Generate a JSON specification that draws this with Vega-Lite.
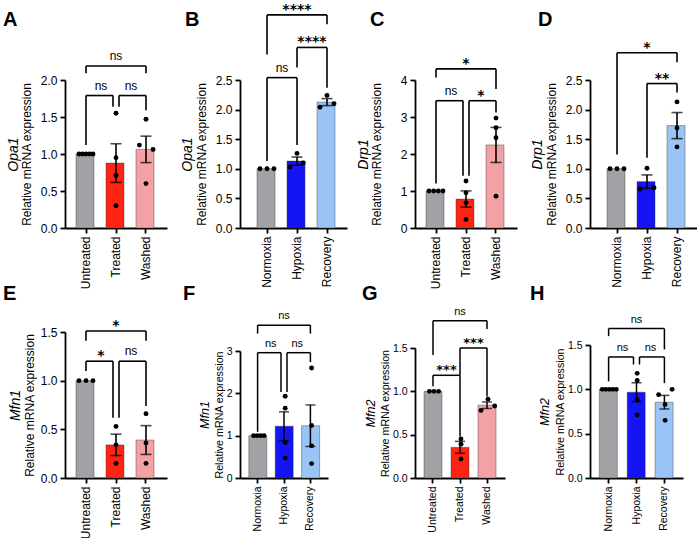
{
  "$schema": "https://vega.github.io/schema/vega-lite/v6.json",
  "padding": {"left": 3, "top": 2, "right": 0, "bottom": 0},
  "columns": 4,
  "bounds": "flush",
  "spacing": {"row": 104, "column": 73},
  "datasets": {
    "pts": [
      {"p": "A", "g": "Untreated", "v": 1, "s": -2}, {"p": "A", "g": "Untreated", "v": 1, "s": -1}, {"p": "A", "g": "Untreated", "v": 1, "s": 0}, {"p": "A", "g": "Untreated", "v": 1, "s": 1}, {"p": "A", "g": "Untreated", "v": 1, "s": 2},
      {"p": "A", "g": "Treated", "v": 1.55, "s": 0}, {"p": "A", "g": "Treated", "v": 0.95, "s": 0}, {"p": "A", "g": "Treated", "v": 0.71, "s": 0}, {"p": "A", "g": "Treated", "v": 0.30, "s": 0},
      {"p": "A", "g": "Washed", "v": 1.47, "s": 0}, {"p": "A", "g": "Washed", "v": 1.12, "s": -1.9}, {"p": "A", "g": "Washed", "v": 1.06, "s": 2}, {"p": "A", "g": "Washed", "v": 0.60, "s": 0},

      {"p": "B", "g": "Normoxia", "v": 1, "s": -2}, {"p": "B", "g": "Normoxia", "v": 1, "s": 0}, {"p": "B", "g": "Normoxia", "v": 1, "s": 2},
      {"p": "B", "g": "Hypoxia", "v": 1.26, "s": 0}, {"p": "B", "g": "Hypoxia", "v": 1.10, "s": 1.8}, {"p": "B", "g": "Hypoxia", "v": 1.03, "s": -2},
      {"p": "B", "g": "Recovery", "v": 2.24, "s": 0}, {"p": "B", "g": "Recovery", "v": 2.04, "s": -2}, {"p": "B", "g": "Recovery", "v": 2.10, "s": 2},

      {"p": "C", "g": "Untreated", "v": 1, "s": -2}, {"p": "C", "g": "Untreated", "v": 1, "s": -0.67}, {"p": "C", "g": "Untreated", "v": 1, "s": 0.67}, {"p": "C", "g": "Untreated", "v": 1, "s": 2},
      {"p": "C", "g": "Treated", "v": 1.27, "s": 0}, {"p": "C", "g": "Treated", "v": 0.95, "s": 0}, {"p": "C", "g": "Treated", "v": 0.68, "s": 0}, {"p": "C", "g": "Treated", "v": 0.23, "s": 0},
      {"p": "C", "g": "Washed", "v": 2.97, "s": 0}, {"p": "C", "g": "Washed", "v": 2.71, "s": 0}, {"p": "C", "g": "Washed", "v": 2.44, "s": 0}, {"p": "C", "g": "Washed", "v": 0.86, "s": 0},

      {"p": "D", "g": "Normoxia", "v": 1, "s": -2}, {"p": "D", "g": "Normoxia", "v": 1, "s": 0}, {"p": "D", "g": "Normoxia", "v": 1, "s": 2},
      {"p": "D", "g": "Hypoxia", "v": 1.01, "s": 0}, {"p": "D", "g": "Hypoxia", "v": 0.66, "s": -2}, {"p": "D", "g": "Hypoxia", "v": 0.68, "s": 2},
      {"p": "D", "g": "Recovery", "v": 2.13, "s": 0}, {"p": "D", "g": "Recovery", "v": 1.69, "s": 0}, {"p": "D", "g": "Recovery", "v": 1.37, "s": 0},

      {"p": "E", "g": "Untreated", "v": 1, "s": -2}, {"p": "E", "g": "Untreated", "v": 1, "s": 0}, {"p": "E", "g": "Untreated", "v": 1, "s": 2},
      {"p": "E", "g": "Treated", "v": 0.53, "s": 0}, {"p": "E", "g": "Treated", "v": 0.34, "s": 0}, {"p": "E", "g": "Treated", "v": 0.15, "s": 0},
      {"p": "E", "g": "Washed", "v": 0.66, "s": 0}, {"p": "E", "g": "Washed", "v": 0.36, "s": 0}, {"p": "E", "g": "Washed", "v": 0.15, "s": 0},

      {"p": "F", "g": "Normoxia", "v": 1, "s": -1.5}, {"p": "F", "g": "Normoxia", "v": 1, "s": -0.5}, {"p": "F", "g": "Normoxia", "v": 1, "s": 0.5}, {"p": "F", "g": "Normoxia", "v": 1, "s": 1.5},
      {"p": "F", "g": "Hypoxia", "v": 1.93, "s": 0}, {"p": "F", "g": "Hypoxia", "v": 1.65, "s": 0}, {"p": "F", "g": "Hypoxia", "v": 0.84, "s": 0}, {"p": "F", "g": "Hypoxia", "v": 0.47, "s": 0},
      {"p": "F", "g": "Recovery", "v": 2.60, "s": 0}, {"p": "F", "g": "Recovery", "v": 1.24, "s": 0}, {"p": "F", "g": "Recovery", "v": 0.76, "s": 0}, {"p": "F", "g": "Recovery", "v": 0.34, "s": 0},

      {"p": "G", "g": "Untreated", "v": 1, "s": -1.3}, {"p": "G", "g": "Untreated", "v": 1, "s": 0}, {"p": "G", "g": "Untreated", "v": 1, "s": 1.3},
      {"p": "G", "g": "Treated", "v": 0.45, "s": 0}, {"p": "G", "g": "Treated", "v": 0.39, "s": 0}, {"p": "G", "g": "Treated", "v": 0.22, "s": 0},
      {"p": "G", "g": "Washed", "v": 0.91, "s": 0}, {"p": "G", "g": "Washed", "v": 0.78, "s": -2}, {"p": "G", "g": "Washed", "v": 0.83, "s": 1.9},

      {"p": "H", "g": "Normoxia", "v": 1, "s": -2}, {"p": "H", "g": "Normoxia", "v": 1, "s": -1}, {"p": "H", "g": "Normoxia", "v": 1, "s": 0}, {"p": "H", "g": "Normoxia", "v": 1, "s": 1}, {"p": "H", "g": "Normoxia", "v": 1, "s": 2},
      {"p": "H", "g": "Hypoxia", "v": 1.18, "s": 0}, {"p": "H", "g": "Hypoxia", "v": 1.10, "s": 0}, {"p": "H", "g": "Hypoxia", "v": 0.88, "s": 0}, {"p": "H", "g": "Hypoxia", "v": 0.71, "s": 0},
      {"p": "H", "g": "Recovery", "v": 0.94, "s": -1.85}, {"p": "H", "g": "Recovery", "v": 1.00, "s": 2}, {"p": "H", "g": "Recovery", "v": 0.83, "s": 0}, {"p": "H", "g": "Recovery", "v": 0.65, "s": 0}
    ],
    "br": [
      {"p": "A", "a": "Untreated", "b": "Treated", "y": 1.79, "ya": 1.12, "yb": 1.64, "t": "ns", "k": "l", "sp": 1},
      {"p": "A", "a": "Treated", "b": "Washed", "y": 1.79, "ya": 1.64, "yb": 1.59, "t": "ns", "k": "r", "sp": 1},
      {"p": "A", "a": "Untreated", "b": "Washed", "y": 2.19, "ya": 2.09, "yb": 2.09, "t": "ns", "k": "n", "sp": 2},
      {"p": "B", "a": "Normoxia", "b": "Hypoxia", "y": 2.54, "ya": 1.13, "yb": 1.40, "t": "ns", "k": "n", "sp": 1},
      {"p": "B", "a": "Hypoxia", "b": "Recovery", "y": 3.05, "ya": 2.71, "yb": 2.37, "t": "****", "k": "n", "sp": 1},
      {"p": "B", "a": "Normoxia", "b": "Recovery", "y": 3.60, "ya": 2.93, "yb": 3.44, "t": "****", "k": "n", "sp": 2},
      {"p": "C", "a": "Untreated", "b": "Treated", "y": 3.44, "ya": 1.20, "yb": 1.41, "t": "ns", "k": "l", "sp": 1},
      {"p": "C", "a": "Treated", "b": "Washed", "y": 3.44, "ya": 1.41, "yb": 3.12, "t": "*", "k": "r", "sp": 1},
      {"p": "C", "a": "Untreated", "b": "Washed", "y": 4.30, "ya": 4.07, "yb": 3.76, "t": "*", "k": "n", "sp": 2},
      {"p": "D", "a": "Hypoxia", "b": "Recovery", "y": 2.44, "ya": 1.185, "yb": 2.29, "t": "**", "k": "n", "sp": 1},
      {"p": "D", "a": "Normoxia", "b": "Recovery", "y": 2.96, "ya": 1.24, "yb": 2.80, "t": "*", "k": "n", "sp": 2},
      {"p": "E", "a": "Untreated", "b": "Treated", "y": 1.20, "ya": 1.10, "yb": 0.62, "t": "*", "k": "l", "sp": 1},
      {"p": "E", "a": "Treated", "b": "Washed", "y": 1.20, "ya": 0.62, "yb": 0.74, "t": "ns", "k": "r", "sp": 1},
      {"p": "E", "a": "Untreated", "b": "Washed", "y": 1.51, "ya": 1.41, "yb": 1.41, "t": "*", "k": "n", "sp": 2},
      {"p": "F", "a": "Normoxia", "b": "Hypoxia", "y": 2.96, "ya": 1.09, "yb": 2.03, "t": "ns", "k": "l", "sp": 1},
      {"p": "F", "a": "Hypoxia", "b": "Recovery", "y": 2.96, "ya": 2.03, "yb": 2.74, "t": "ns", "k": "r", "sp": 1},
      {"p": "F", "a": "Normoxia", "b": "Recovery", "y": 3.61, "ya": 3.41, "yb": 3.41, "t": "ns", "k": "n", "sp": 2},
      {"p": "G", "a": "Untreated", "b": "Treated", "y": 1.185, "ya": 1.06, "yb": 0.48, "t": "***", "k": "n", "sp": 1},
      {"p": "G", "a": "Treated", "b": "Washed", "y": 1.50, "ya": 1.185, "yb": 0.94, "t": "***", "k": "n", "sp": 1},
      {"p": "G", "a": "Untreated", "b": "Washed", "y": 1.815, "ya": 1.42, "yb": 1.72, "t": "ns", "k": "n", "sp": 2},
      {"p": "H", "a": "Normoxia", "b": "Hypoxia", "y": 1.365, "ya": 1.09, "yb": 1.28, "t": "ns", "k": "l", "sp": 1},
      {"p": "H", "a": "Hypoxia", "b": "Recovery", "y": 1.365, "ya": 1.28, "yb": 1.07, "t": "ns", "k": "r", "sp": 1},
      {"p": "H", "a": "Normoxia", "b": "Recovery", "y": 1.685, "ya": 1.60, "yb": 1.45, "t": "ns", "k": "n", "sp": 2}
    ]
  },
  "concat": [
    {
      "title": {"text": "A", "dx": -62, "offset": 20},
      "width": 102, "height": 148,
      "resolve": {"axis": {"x": "independent", "y": "independent"}},
      "layer": [
        {"data": {"name": "pts"}, "transform": [{"filter": "datum.p == 'A'"}],
         "mark": {"type": "bar", "stroke": "#333333", "strokeOpacity": 0.5, "strokeWidth": 0.8},
         "encoding": {
           "x": {"field": "g", "type": "nominal", "scale": {"domain": ["Untreated", "Treated", "Washed"], "paddingInner": 0.3333, "paddingOuter": 0.3667}, "axis": {"title": null, "orient": "bottom", "labelAngle": -90, "labelFontSize": 12}},
           "y": {"aggregate": "mean", "field": "v", "type": "quantitative", "scale": {"domain": [0, 2], "nice": false}, "axis": {"title": "Relative mRNA expression", "values": [0, 0.5, 1, 1.5, 2], "format": ".1f", "titlePadding": 7}},
           "color": {"field": "g", "type": "nominal", "scale": {"domain": ["Untreated", "Treated", "Washed", "Normoxia", "Hypoxia", "Recovery"], "range": ["#A2A2A6", "#FF2313", "#F4A1A6", "#A2A2A6", "#1414F4", "#9AC4F5"]}, "legend": null}}},
        {"data": {"name": "pts"}, "transform": [{"filter": "datum.p == 'A' && datum.g != 'Untreated'"}],
         "mark": {"type": "errorbar", "extent": "stderr", "ticks": true, "size": 11, "thickness": 1.6, "color": "black"},
         "encoding": {"x": {"field": "g", "type": "nominal", "axis": null}, "y": {"field": "v", "type": "quantitative", "axis": null}}},
        {"data": {"name": "pts"}, "transform": [{"filter": "datum.p == 'A'"}],
         "mark": {"type": "circle", "size": 24, "color": "black", "opacity": 1},
         "encoding": {"x": {"field": "g", "type": "nominal", "axis": null}, "xOffset": {"field": "s", "type": "quantitative", "scale": {"domain": [-2, 2], "range": [3, 17]}},
           "y": {"field": "v", "type": "quantitative", "axis": {"orient": "left", "title": "Opa1", "titleFontStyle": "italic", "titleFontSize": 14, "labels": false, "ticks": false, "domain": false, "titlePadding": 45}}}},
        {"data": {"name": "br"}, "transform": [{"filter": "datum.p == 'A' && datum.k == 'n'"}], "mark": {"type": "rule", "color": "black", "strokeWidth": 1.6},
         "encoding": {"x": {"field": "a", "type": "nominal", "axis": null}, "x2": {"field": "b"}, "y": {"field": "y", "type": "quantitative", "axis": null}}},
        {"data": {"name": "br"}, "transform": [{"filter": "datum.p == 'A' && datum.k == 'l'"}], "mark": {"type": "rule", "color": "black", "strokeWidth": 1.6, "x2Offset": -3},
         "encoding": {"x": {"field": "a", "type": "nominal", "axis": null}, "x2": {"field": "b"}, "y": {"field": "y", "type": "quantitative", "axis": null}}},
        {"data": {"name": "br"}, "transform": [{"filter": "datum.p == 'A' && datum.k == 'r'"}], "mark": {"type": "rule", "color": "black", "strokeWidth": 1.6, "xOffset": 3},
         "encoding": {"x": {"field": "a", "type": "nominal", "axis": null}, "x2": {"field": "b"}, "y": {"field": "y", "type": "quantitative", "axis": null}}},
        {"data": {"name": "br"}, "transform": [{"filter": "datum.p == 'A' && datum.k != 'r'"}], "mark": {"type": "rule", "color": "black", "strokeWidth": 1.6},
         "encoding": {"x": {"field": "a", "type": "nominal", "axis": null}, "y": {"field": "y", "type": "quantitative", "axis": null}, "y2": {"field": "ya"}}},
        {"data": {"name": "br"}, "transform": [{"filter": "datum.p == 'A' && datum.k == 'r'"}], "mark": {"type": "rule", "color": "black", "strokeWidth": 1.6, "xOffset": 3},
         "encoding": {"x": {"field": "a", "type": "nominal", "axis": null}, "y": {"field": "y", "type": "quantitative", "axis": null}, "y2": {"field": "ya"}}},
        {"data": {"name": "br"}, "transform": [{"filter": "datum.p == 'A' && datum.k != 'l'"}], "mark": {"type": "rule", "color": "black", "strokeWidth": 1.6},
         "encoding": {"x": {"field": "b", "type": "nominal", "axis": null}, "y": {"field": "y", "type": "quantitative", "axis": null}, "y2": {"field": "yb"}}},
        {"data": {"name": "br"}, "transform": [{"filter": "datum.p == 'A' && datum.k == 'l'"}], "mark": {"type": "rule", "color": "black", "strokeWidth": 1.6, "xOffset": -3},
         "encoding": {"x": {"field": "b", "type": "nominal", "axis": null}, "y": {"field": "y", "type": "quantitative", "axis": null}, "y2": {"field": "yb"}}},
        {"data": {"name": "br"}, "transform": [{"filter": "datum.p == 'A' && datum.sp == 1"}], "mark": {"type": "text", "color": "black", "fontSize": 12, "dy": -6, "baseline": "alphabetic"},
         "encoding": {"x": {"field": "a", "type": "nominal", "bandPosition": 1.25, "axis": null}, "y": {"field": "y", "type": "quantitative", "axis": null}, "text": {"field": "t"}}},
        {"data": {"name": "br"}, "transform": [{"filter": "datum.p == 'A' && datum.sp == 2"}], "mark": {"type": "text", "color": "black", "fontSize": 12, "dy": -6, "baseline": "alphabetic"},
         "encoding": {"x": {"field": "a", "type": "nominal", "bandPosition": 2, "axis": null}, "y": {"field": "y", "type": "quantitative", "axis": null}, "text": {"field": "t"}}}
      ]
    },
    {
      "title": {"text": "B", "dx": -55, "offset": -27},
      "width": 102, "height": 148,
      "resolve": {"axis": {"x": "independent", "y": "independent"}},
      "layer": [
        {"data": {"name": "pts"}, "transform": [{"filter": "datum.p == 'B'"}],
         "mark": {"type": "bar", "stroke": "#333333", "strokeOpacity": 0.5, "strokeWidth": 0.8},
         "encoding": {
           "x": {"field": "g", "type": "nominal", "scale": {"domain": ["Normoxia", "Hypoxia", "Recovery"], "range": [0, 107], "paddingInner": 0.3333, "paddingOuter": 0.45, "align": 0.63}, "axis": {"title": null, "orient": "bottom", "labelAngle": -90, "labelFontSize": 12}},
           "y": {"aggregate": "mean", "field": "v", "type": "quantitative", "scale": {"domain": [0, 2.5], "nice": false}, "axis": {"title": "Relative mRNA expression", "values": [0, 0.5, 1, 1.5, 2, 2.5], "format": ".1f", "titlePadding": 7}},
           "color": {"field": "g", "type": "nominal", "scale": {"domain": ["Untreated", "Treated", "Washed", "Normoxia", "Hypoxia", "Recovery"], "range": ["#A2A2A6", "#FF2313", "#F4A1A6", "#A2A2A6", "#1414F4", "#9AC4F5"]}, "legend": null}}},
        {"data": {"name": "pts"}, "transform": [{"filter": "datum.p == 'B' && datum.g != 'Normoxia'"}],
         "mark": {"type": "errorbar", "extent": "stderr", "ticks": true, "size": 11, "thickness": 1.6, "color": "black"},
         "encoding": {"x": {"field": "g", "type": "nominal", "axis": null}, "y": {"field": "v", "type": "quantitative", "axis": null}}},
        {"data": {"name": "pts"}, "transform": [{"filter": "datum.p == 'B'"}],
         "mark": {"type": "circle", "size": 24, "color": "black", "opacity": 1},
         "encoding": {"x": {"field": "g", "type": "nominal", "axis": null}, "xOffset": {"field": "s", "type": "quantitative", "scale": {"domain": [-2, 2], "range": [3, 17]}},
           "y": {"field": "v", "type": "quantitative", "axis": {"orient": "left", "title": "Opa1", "titleFontStyle": "italic", "titleFontSize": 14, "labels": false, "ticks": false, "domain": false, "titlePadding": 46}}}},
        {"data": {"name": "br"}, "transform": [{"filter": "datum.p == 'B'"}], "mark": {"type": "rule", "color": "black", "strokeWidth": 1.6},
         "encoding": {"x": {"field": "a", "type": "nominal", "axis": null}, "x2": {"field": "b"}, "y": {"field": "y", "type": "quantitative", "axis": null}}},
        {"data": {"name": "br"}, "transform": [{"filter": "datum.p == 'B'"}], "mark": {"type": "rule", "color": "black", "strokeWidth": 1.6},
         "encoding": {"x": {"field": "a", "type": "nominal", "axis": null}, "y": {"field": "y", "type": "quantitative", "axis": null}, "y2": {"field": "ya"}}},
        {"data": {"name": "br"}, "transform": [{"filter": "datum.p == 'B'"}], "mark": {"type": "rule", "color": "black", "strokeWidth": 1.6},
         "encoding": {"x": {"field": "b", "type": "nominal", "axis": null}, "y": {"field": "y", "type": "quantitative", "axis": null}, "y2": {"field": "yb"}}},
        {"data": {"name": "br"}, "transform": [{"filter": "datum.p == 'B' && datum.sp == 1 && datum.t == 'ns'"}], "mark": {"type": "text", "color": "black", "fontSize": 12, "dy": -6, "baseline": "alphabetic"},
         "encoding": {"x": {"field": "a", "type": "nominal", "bandPosition": 1.25, "axis": null}, "y": {"field": "y", "type": "quantitative", "axis": null}, "text": {"field": "t"}}},
        {"data": {"name": "br"}, "transform": [{"filter": "datum.p == 'B' && datum.sp == 1 && datum.t != 'ns'"}], "mark": {"type": "text", "color": "black", "font": "DejaVu Sans", "fontWeight": "bold", "fontSize": 14, "dy": -1, "baseline": "alphabetic"},
         "encoding": {"x": {"field": "a", "type": "nominal", "bandPosition": 1.25, "axis": null}, "y": {"field": "y", "type": "quantitative", "axis": null}, "text": {"field": "t"}}},
        {"data": {"name": "br"}, "transform": [{"filter": "datum.p == 'B' && datum.sp == 2"}], "mark": {"type": "text", "color": "black", "font": "DejaVu Sans", "fontWeight": "bold", "fontSize": 14, "dy": -1, "baseline": "alphabetic"},
         "encoding": {"x": {"field": "a", "type": "nominal", "bandPosition": 2, "axis": null}, "y": {"field": "y", "type": "quantitative", "axis": null}, "text": {"field": "t"}}}
      ]
    },
    {
      "title": {"text": "C", "dx": -45, "offset": 27},
      "width": 102, "height": 148,
      "resolve": {"axis": {"x": "independent", "y": "independent"}},
      "layer": [
        {"data": {"name": "pts"}, "transform": [{"filter": "datum.p == 'C'"}],
         "mark": {"type": "bar", "stroke": "#333333", "strokeOpacity": 0.5, "strokeWidth": 0.8},
         "encoding": {
           "x": {"field": "g", "type": "nominal", "scale": {"domain": ["Untreated", "Treated", "Washed"], "paddingInner": 0.3333, "paddingOuter": 0.3667}, "axis": {"title": null, "orient": "bottom", "labelAngle": -90, "labelFontSize": 12}},
           "y": {"aggregate": "mean", "field": "v", "type": "quantitative", "scale": {"domain": [0, 4], "nice": false}, "axis": {"title": "Relative mRNA expression", "values": [0, 1, 2, 3, 4], "format": "d", "titlePadding": 17}},
           "color": {"field": "g", "type": "nominal", "scale": {"domain": ["Untreated", "Treated", "Washed", "Normoxia", "Hypoxia", "Recovery"], "range": ["#A2A2A6", "#FF2313", "#F4A1A6", "#A2A2A6", "#1414F4", "#9AC4F5"]}, "legend": null}}},
        {"data": {"name": "pts"}, "transform": [{"filter": "datum.p == 'C' && datum.g != 'Untreated'"}],
         "mark": {"type": "errorbar", "extent": "stderr", "ticks": true, "size": 11, "thickness": 1.6, "color": "black"},
         "encoding": {"x": {"field": "g", "type": "nominal", "axis": null}, "y": {"field": "v", "type": "quantitative", "axis": null}}},
        {"data": {"name": "pts"}, "transform": [{"filter": "datum.p == 'C'"}],
         "mark": {"type": "circle", "size": 24, "color": "black", "opacity": 1},
         "encoding": {"x": {"field": "g", "type": "nominal", "axis": null}, "xOffset": {"field": "s", "type": "quantitative", "scale": {"domain": [-2, 2], "range": [3, 17]}},
           "y": {"field": "v", "type": "quantitative", "axis": {"orient": "left", "title": "Drp1", "titleFontStyle": "italic", "titleFontSize": 14, "labels": false, "ticks": false, "domain": false, "titlePadding": 45}}}},
        {"data": {"name": "br"}, "transform": [{"filter": "datum.p == 'C' && datum.k == 'n'"}], "mark": {"type": "rule", "color": "black", "strokeWidth": 1.6},
         "encoding": {"x": {"field": "a", "type": "nominal", "axis": null}, "x2": {"field": "b"}, "y": {"field": "y", "type": "quantitative", "axis": null}}},
        {"data": {"name": "br"}, "transform": [{"filter": "datum.p == 'C' && datum.k == 'l'"}], "mark": {"type": "rule", "color": "black", "strokeWidth": 1.6, "x2Offset": -3},
         "encoding": {"x": {"field": "a", "type": "nominal", "axis": null}, "x2": {"field": "b"}, "y": {"field": "y", "type": "quantitative", "axis": null}}},
        {"data": {"name": "br"}, "transform": [{"filter": "datum.p == 'C' && datum.k == 'r'"}], "mark": {"type": "rule", "color": "black", "strokeWidth": 1.6, "xOffset": 3},
         "encoding": {"x": {"field": "a", "type": "nominal", "axis": null}, "x2": {"field": "b"}, "y": {"field": "y", "type": "quantitative", "axis": null}}},
        {"data": {"name": "br"}, "transform": [{"filter": "datum.p == 'C' && datum.k != 'r'"}], "mark": {"type": "rule", "color": "black", "strokeWidth": 1.6},
         "encoding": {"x": {"field": "a", "type": "nominal", "axis": null}, "y": {"field": "y", "type": "quantitative", "axis": null}, "y2": {"field": "ya"}}},
        {"data": {"name": "br"}, "transform": [{"filter": "datum.p == 'C' && datum.k == 'r'"}], "mark": {"type": "rule", "color": "black", "strokeWidth": 1.6, "xOffset": 3},
         "encoding": {"x": {"field": "a", "type": "nominal", "axis": null}, "y": {"field": "y", "type": "quantitative", "axis": null}, "y2": {"field": "ya"}}},
        {"data": {"name": "br"}, "transform": [{"filter": "datum.p == 'C' && datum.k != 'l'"}], "mark": {"type": "rule", "color": "black", "strokeWidth": 1.6},
         "encoding": {"x": {"field": "b", "type": "nominal", "axis": null}, "y": {"field": "y", "type": "quantitative", "axis": null}, "y2": {"field": "yb"}}},
        {"data": {"name": "br"}, "transform": [{"filter": "datum.p == 'C' && datum.k == 'l'"}], "mark": {"type": "rule", "color": "black", "strokeWidth": 1.6, "xOffset": -3},
         "encoding": {"x": {"field": "b", "type": "nominal", "axis": null}, "y": {"field": "y", "type": "quantitative", "axis": null}, "y2": {"field": "yb"}}},
        {"data": {"name": "br"}, "transform": [{"filter": "datum.p == 'C' && datum.sp == 1 && datum.t == 'ns'"}], "mark": {"type": "text", "color": "black", "fontSize": 12, "dy": -6, "baseline": "alphabetic"},
         "encoding": {"x": {"field": "a", "type": "nominal", "bandPosition": 1.25, "axis": null}, "y": {"field": "y", "type": "quantitative", "axis": null}, "text": {"field": "t"}}},
        {"data": {"name": "br"}, "transform": [{"filter": "datum.p == 'C' && datum.sp == 1 && datum.t != 'ns'"}], "mark": {"type": "text", "color": "black", "font": "DejaVu Sans", "fontWeight": "bold", "fontSize": 14, "dy": -1, "baseline": "alphabetic"},
         "encoding": {"x": {"field": "a", "type": "nominal", "bandPosition": 1.25, "axis": null}, "y": {"field": "y", "type": "quantitative", "axis": null}, "text": {"field": "t"}}},
        {"data": {"name": "br"}, "transform": [{"filter": "datum.p == 'C' && datum.sp == 2"}], "mark": {"type": "text", "color": "black", "font": "DejaVu Sans", "fontWeight": "bold", "fontSize": 14, "dy": -1, "baseline": "alphabetic"},
         "encoding": {"x": {"field": "a", "type": "nominal", "bandPosition": 2, "axis": null}, "y": {"field": "y", "type": "quantitative", "axis": null}, "text": {"field": "t"}}}
      ]
    },
    {
      "title": {"text": "D", "dx": -52, "offset": 11},
      "width": 102, "height": 148,
      "resolve": {"axis": {"x": "independent", "y": "independent"}},
      "layer": [
        {"data": {"name": "pts"}, "transform": [{"filter": "datum.p == 'D'"}],
         "mark": {"type": "bar", "stroke": "#333333", "strokeOpacity": 0.5, "strokeWidth": 0.8},
         "encoding": {
           "x": {"field": "g", "type": "nominal", "scale": {"domain": ["Normoxia", "Hypoxia", "Recovery"], "range": [0, 107], "paddingInner": 0.3333, "paddingOuter": 0.45, "align": 0.63}, "axis": {"title": null, "orient": "bottom", "labelAngle": -90, "labelFontSize": 12}},
           "y": {"aggregate": "mean", "field": "v", "type": "quantitative", "scale": {"domain": [0, 2.5], "nice": false}, "axis": {"title": "Relative mRNA expression", "values": [0, 0.5, 1, 1.5, 2, 2.5], "format": ".1f", "titlePadding": 7}},
           "color": {"field": "g", "type": "nominal", "scale": {"domain": ["Untreated", "Treated", "Washed", "Normoxia", "Hypoxia", "Recovery"], "range": ["#A2A2A6", "#FF2313", "#F4A1A6", "#A2A2A6", "#1414F4", "#9AC4F5"]}, "legend": null}}},
        {"data": {"name": "pts"}, "transform": [{"filter": "datum.p == 'D' && datum.g != 'Normoxia'"}],
         "mark": {"type": "errorbar", "extent": "stderr", "ticks": true, "size": 11, "thickness": 1.6, "color": "black"},
         "encoding": {"x": {"field": "g", "type": "nominal", "axis": null}, "y": {"field": "v", "type": "quantitative", "axis": null}}},
        {"data": {"name": "pts"}, "transform": [{"filter": "datum.p == 'D'"}],
         "mark": {"type": "circle", "size": 24, "color": "black", "opacity": 1},
         "encoding": {"x": {"field": "g", "type": "nominal", "axis": null}, "xOffset": {"field": "s", "type": "quantitative", "scale": {"domain": [-2, 2], "range": [3, 17]}},
           "y": {"field": "v", "type": "quantitative", "axis": {"orient": "left", "title": "Drp1", "titleFontStyle": "italic", "titleFontSize": 14, "labels": false, "ticks": false, "domain": false, "titlePadding": 46}}}},
        {"data": {"name": "br"}, "transform": [{"filter": "datum.p == 'D'"}], "mark": {"type": "rule", "color": "black", "strokeWidth": 1.6},
         "encoding": {"x": {"field": "a", "type": "nominal", "axis": null}, "x2": {"field": "b"}, "y": {"field": "y", "type": "quantitative", "axis": null}}},
        {"data": {"name": "br"}, "transform": [{"filter": "datum.p == 'D'"}], "mark": {"type": "rule", "color": "black", "strokeWidth": 1.6},
         "encoding": {"x": {"field": "a", "type": "nominal", "axis": null}, "y": {"field": "y", "type": "quantitative", "axis": null}, "y2": {"field": "ya"}}},
        {"data": {"name": "br"}, "transform": [{"filter": "datum.p == 'D'"}], "mark": {"type": "rule", "color": "black", "strokeWidth": 1.6},
         "encoding": {"x": {"field": "b", "type": "nominal", "axis": null}, "y": {"field": "y", "type": "quantitative", "axis": null}, "y2": {"field": "yb"}}},
        {"data": {"name": "br"}, "transform": [{"filter": "datum.p == 'D' && datum.sp == 1"}], "mark": {"type": "text", "color": "black", "font": "DejaVu Sans", "fontWeight": "bold", "fontSize": 14, "dy": -1, "baseline": "alphabetic"},
         "encoding": {"x": {"field": "a", "type": "nominal", "bandPosition": 1.25, "axis": null}, "y": {"field": "y", "type": "quantitative", "axis": null}, "text": {"field": "t"}}},
        {"data": {"name": "br"}, "transform": [{"filter": "datum.p == 'D' && datum.sp == 2"}], "mark": {"type": "text", "color": "black", "font": "DejaVu Sans", "fontWeight": "bold", "fontSize": 14, "dy": -1, "baseline": "alphabetic"},
         "encoding": {"x": {"field": "a", "type": "nominal", "bandPosition": 2, "axis": null}, "y": {"field": "y", "type": "quantitative", "axis": null}, "text": {"field": "t"}}}
      ]
    },
    {
      "title": {"text": "E", "dx": -62, "offset": 15},
      "width": 102, "height": 146,
      "resolve": {"axis": {"x": "independent", "y": "independent"}},
      "layer": [
        {"data": {"name": "pts"}, "transform": [{"filter": "datum.p == 'E'"}],
         "mark": {"type": "bar", "stroke": "#333333", "strokeOpacity": 0.5, "strokeWidth": 0.8},
         "encoding": {
           "x": {"field": "g", "type": "nominal", "scale": {"domain": ["Untreated", "Treated", "Washed"], "paddingInner": 0.3333, "paddingOuter": 0.3667}, "axis": {"title": null, "orient": "bottom", "labelAngle": -90, "labelFontSize": 12}},
           "y": {"aggregate": "mean", "field": "v", "type": "quantitative", "scale": {"domain": [0, 1.5], "nice": false}, "axis": {"title": "Relative mRNA expression", "values": [0, 0.5, 1, 1.5], "format": ".1f", "titlePadding": 4}},
           "color": {"field": "g", "type": "nominal", "scale": {"domain": ["Untreated", "Treated", "Washed", "Normoxia", "Hypoxia", "Recovery"], "range": ["#A2A2A6", "#FF2313", "#F4A1A6", "#A2A2A6", "#1414F4", "#9AC4F5"]}, "legend": null}}},
        {"data": {"name": "pts"}, "transform": [{"filter": "datum.p == 'E' && datum.g != 'Untreated'"}],
         "mark": {"type": "errorbar", "extent": "stderr", "ticks": true, "size": 11, "thickness": 1.6, "color": "black"},
         "encoding": {"x": {"field": "g", "type": "nominal", "axis": null}, "y": {"field": "v", "type": "quantitative", "axis": null}}},
        {"data": {"name": "pts"}, "transform": [{"filter": "datum.p == 'E'"}],
         "mark": {"type": "circle", "size": 24, "color": "black", "opacity": 1},
         "encoding": {"x": {"field": "g", "type": "nominal", "axis": null}, "xOffset": {"field": "s", "type": "quantitative", "scale": {"domain": [-2, 2], "range": [3, 17]}},
           "y": {"field": "v", "type": "quantitative", "axis": {"orient": "left", "title": "Mfn1", "titleFontStyle": "italic", "titleFontSize": 14, "labels": false, "ticks": false, "domain": false, "titlePadding": 43}}}},
        {"data": {"name": "br"}, "transform": [{"filter": "datum.p == 'E' && datum.k == 'n'"}], "mark": {"type": "rule", "color": "black", "strokeWidth": 1.6},
         "encoding": {"x": {"field": "a", "type": "nominal", "axis": null}, "x2": {"field": "b"}, "y": {"field": "y", "type": "quantitative", "axis": null}}},
        {"data": {"name": "br"}, "transform": [{"filter": "datum.p == 'E' && datum.k == 'l'"}], "mark": {"type": "rule", "color": "black", "strokeWidth": 1.6, "x2Offset": -3},
         "encoding": {"x": {"field": "a", "type": "nominal", "axis": null}, "x2": {"field": "b"}, "y": {"field": "y", "type": "quantitative", "axis": null}}},
        {"data": {"name": "br"}, "transform": [{"filter": "datum.p == 'E' && datum.k == 'r'"}], "mark": {"type": "rule", "color": "black", "strokeWidth": 1.6, "xOffset": 3},
         "encoding": {"x": {"field": "a", "type": "nominal", "axis": null}, "x2": {"field": "b"}, "y": {"field": "y", "type": "quantitative", "axis": null}}},
        {"data": {"name": "br"}, "transform": [{"filter": "datum.p == 'E' && datum.k != 'r'"}], "mark": {"type": "rule", "color": "black", "strokeWidth": 1.6},
         "encoding": {"x": {"field": "a", "type": "nominal", "axis": null}, "y": {"field": "y", "type": "quantitative", "axis": null}, "y2": {"field": "ya"}}},
        {"data": {"name": "br"}, "transform": [{"filter": "datum.p == 'E' && datum.k == 'r'"}], "mark": {"type": "rule", "color": "black", "strokeWidth": 1.6, "xOffset": 3},
         "encoding": {"x": {"field": "a", "type": "nominal", "axis": null}, "y": {"field": "y", "type": "quantitative", "axis": null}, "y2": {"field": "ya"}}},
        {"data": {"name": "br"}, "transform": [{"filter": "datum.p == 'E' && datum.k != 'l'"}], "mark": {"type": "rule", "color": "black", "strokeWidth": 1.6},
         "encoding": {"x": {"field": "b", "type": "nominal", "axis": null}, "y": {"field": "y", "type": "quantitative", "axis": null}, "y2": {"field": "yb"}}},
        {"data": {"name": "br"}, "transform": [{"filter": "datum.p == 'E' && datum.k == 'l'"}], "mark": {"type": "rule", "color": "black", "strokeWidth": 1.6, "xOffset": -3},
         "encoding": {"x": {"field": "b", "type": "nominal", "axis": null}, "y": {"field": "y", "type": "quantitative", "axis": null}, "y2": {"field": "yb"}}},
        {"data": {"name": "br"}, "transform": [{"filter": "datum.p == 'E' && datum.sp == 1 && datum.t == 'ns'"}], "mark": {"type": "text", "color": "black", "fontSize": 12, "dy": -6, "baseline": "alphabetic"},
         "encoding": {"x": {"field": "a", "type": "nominal", "bandPosition": 1.25, "axis": null}, "y": {"field": "y", "type": "quantitative", "axis": null}, "text": {"field": "t"}}},
        {"data": {"name": "br"}, "transform": [{"filter": "datum.p == 'E' && datum.sp == 1 && datum.t != 'ns'"}], "mark": {"type": "text", "color": "black", "font": "DejaVu Sans", "fontWeight": "bold", "fontSize": 14, "dy": -1, "baseline": "alphabetic"},
         "encoding": {"x": {"field": "a", "type": "nominal", "bandPosition": 1.25, "axis": null}, "y": {"field": "y", "type": "quantitative", "axis": null}, "text": {"field": "t"}}},
        {"data": {"name": "br"}, "transform": [{"filter": "datum.p == 'E' && datum.sp == 2"}], "mark": {"type": "text", "color": "black", "font": "DejaVu Sans", "fontWeight": "bold", "fontSize": 14, "dy": -1, "baseline": "alphabetic"},
         "encoding": {"x": {"field": "a", "type": "nominal", "bandPosition": 2, "axis": null}, "y": {"field": "y", "type": "quantitative", "axis": null}, "text": {"field": "t"}}}
      ]
    },
    {
      "title": {"text": "F", "dx": -57, "offset": 6},
      "width": 102, "height": 146,
      "resolve": {"axis": {"x": "independent", "y": "independent"}},
      "layer": [
        {"data": {"name": "pts"}, "transform": [{"filter": "datum.p == 'F'"}],
         "mark": {"type": "bar", "stroke": "#333333", "strokeOpacity": 0.5, "strokeWidth": 0.8},
         "encoding": {
           "x": {"field": "g", "type": "nominal", "scale": {"domain": ["Normoxia", "Hypoxia", "Recovery"], "range": [0, 88], "paddingInner": 0.3333, "paddingOuter": 0.3333}, "axis": {"title": null, "orient": "bottom", "labelAngle": -90, "labelFontSize": 10.5}},
           "y": {"aggregate": "mean", "field": "v", "type": "quantitative", "scale": {"domain": [0, 3], "range": [146, 19], "nice": false}, "axis": {"title": "Relative mRNA expression", "values": [0, 1, 2, 3], "format": "d", "labelFontSize": 10.5, "titleFontSize": 10.7, "titlePadding": 2}},
           "color": {"field": "g", "type": "nominal", "scale": {"domain": ["Untreated", "Treated", "Washed", "Normoxia", "Hypoxia", "Recovery"], "range": ["#A2A2A6", "#FF2313", "#F4A1A6", "#A2A2A6", "#1414F4", "#9AC4F5"]}, "legend": null}}},
        {"data": {"name": "pts"}, "transform": [{"filter": "datum.p == 'F' && datum.g != 'Normoxia'"}],
         "mark": {"type": "errorbar", "extent": "stderr", "ticks": true, "size": 10, "thickness": 1.5, "color": "black"},
         "encoding": {"x": {"field": "g", "type": "nominal", "axis": null}, "y": {"field": "v", "type": "quantitative", "axis": null}}},
        {"data": {"name": "pts"}, "transform": [{"filter": "datum.p == 'F'"}],
         "mark": {"type": "circle", "size": 24, "color": "black", "opacity": 1},
         "encoding": {"x": {"field": "g", "type": "nominal", "axis": null}, "xOffset": {"field": "s", "type": "quantitative", "scale": {"domain": [-2, 2], "range": [2.3, 15.3]}},
           "y": {"field": "v", "type": "quantitative", "axis": {"orient": "left", "title": "Mfn1", "titleFontStyle": "italic", "titleFontSize": 12.5, "labels": false, "ticks": false, "domain": false, "titlePadding": 29}}}},
        {"data": {"name": "br"}, "transform": [{"filter": "datum.p == 'F' && datum.k == 'n'"}], "mark": {"type": "rule", "color": "black", "strokeWidth": 1.5},
         "encoding": {"x": {"field": "a", "type": "nominal", "axis": null}, "x2": {"field": "b"}, "y": {"field": "y", "type": "quantitative", "axis": null}}},
        {"data": {"name": "br"}, "transform": [{"filter": "datum.p == 'F' && datum.k == 'l'"}], "mark": {"type": "rule", "color": "black", "strokeWidth": 1.5, "x2Offset": -3},
         "encoding": {"x": {"field": "a", "type": "nominal", "axis": null}, "x2": {"field": "b"}, "y": {"field": "y", "type": "quantitative", "axis": null}}},
        {"data": {"name": "br"}, "transform": [{"filter": "datum.p == 'F' && datum.k == 'r'"}], "mark": {"type": "rule", "color": "black", "strokeWidth": 1.5, "xOffset": 3},
         "encoding": {"x": {"field": "a", "type": "nominal", "axis": null}, "x2": {"field": "b"}, "y": {"field": "y", "type": "quantitative", "axis": null}}},
        {"data": {"name": "br"}, "transform": [{"filter": "datum.p == 'F' && datum.k != 'r'"}], "mark": {"type": "rule", "color": "black", "strokeWidth": 1.5},
         "encoding": {"x": {"field": "a", "type": "nominal", "axis": null}, "y": {"field": "y", "type": "quantitative", "axis": null}, "y2": {"field": "ya"}}},
        {"data": {"name": "br"}, "transform": [{"filter": "datum.p == 'F' && datum.k == 'r'"}], "mark": {"type": "rule", "color": "black", "strokeWidth": 1.5, "xOffset": 3},
         "encoding": {"x": {"field": "a", "type": "nominal", "axis": null}, "y": {"field": "y", "type": "quantitative", "axis": null}, "y2": {"field": "ya"}}},
        {"data": {"name": "br"}, "transform": [{"filter": "datum.p == 'F' && datum.k != 'l'"}], "mark": {"type": "rule", "color": "black", "strokeWidth": 1.5},
         "encoding": {"x": {"field": "b", "type": "nominal", "axis": null}, "y": {"field": "y", "type": "quantitative", "axis": null}, "y2": {"field": "yb"}}},
        {"data": {"name": "br"}, "transform": [{"filter": "datum.p == 'F' && datum.k == 'l'"}], "mark": {"type": "rule", "color": "black", "strokeWidth": 1.5, "xOffset": -3},
         "encoding": {"x": {"field": "b", "type": "nominal", "axis": null}, "y": {"field": "y", "type": "quantitative", "axis": null}, "y2": {"field": "yb"}}},
        {"data": {"name": "br"}, "transform": [{"filter": "datum.p == 'F' && datum.sp == 1"}], "mark": {"type": "text", "color": "black", "fontSize": 11, "dy": -6, "baseline": "alphabetic"},
         "encoding": {"x": {"field": "a", "type": "nominal", "bandPosition": 1.25, "axis": null}, "y": {"field": "y", "type": "quantitative", "axis": null}, "text": {"field": "t"}}},
        {"data": {"name": "br"}, "transform": [{"filter": "datum.p == 'F' && datum.sp == 2"}], "mark": {"type": "text", "color": "black", "fontSize": 11, "dy": -6, "baseline": "alphabetic"},
         "encoding": {"x": {"field": "a", "type": "nominal", "bandPosition": 2, "axis": null}, "y": {"field": "y", "type": "quantitative", "axis": null}, "text": {"field": "t"}}}
      ]
    },
    {
      "title": {"text": "G", "dx": -53, "offset": 2},
      "width": 102, "height": 146,
      "resolve": {"axis": {"x": "independent", "y": "independent"}},
      "layer": [
        {"data": {"name": "pts"}, "transform": [{"filter": "datum.p == 'G'"}],
         "mark": {"type": "bar", "stroke": "#333333", "strokeOpacity": 0.5, "strokeWidth": 0.8},
         "encoding": {
           "x": {"field": "g", "type": "nominal", "scale": {"domain": ["Untreated", "Treated", "Washed"], "range": [0, 90], "paddingInner": 0.3333, "paddingOuter": 0.3333}, "axis": {"title": null, "orient": "bottom", "labelAngle": -90, "labelFontSize": 10.5}},
           "y": {"aggregate": "mean", "field": "v", "type": "quantitative", "scale": {"domain": [0, 1.5], "range": [146, 16], "nice": false}, "axis": {"title": "Relative mRNA expression", "values": [0, 0.5, 1, 1.5], "format": ".1f", "labelFontSize": 10.5, "titleFontSize": 10.7, "titlePadding": 2}},
           "color": {"field": "g", "type": "nominal", "scale": {"domain": ["Untreated", "Treated", "Washed", "Normoxia", "Hypoxia", "Recovery"], "range": ["#A2A2A6", "#FF2313", "#F4A1A6", "#A2A2A6", "#1414F4", "#9AC4F5"]}, "legend": null}}},
        {"data": {"name": "pts"}, "transform": [{"filter": "datum.p == 'G' && datum.g != 'Untreated'"}],
         "mark": {"type": "errorbar", "extent": "stderr", "ticks": true, "size": 10, "thickness": 1.5, "color": "black"},
         "encoding": {"x": {"field": "g", "type": "nominal", "axis": null}, "y": {"field": "v", "type": "quantitative", "axis": null}}},
        {"data": {"name": "pts"}, "transform": [{"filter": "datum.p == 'G'"}],
         "mark": {"type": "circle", "size": 24, "color": "black", "opacity": 1},
         "encoding": {"x": {"field": "g", "type": "nominal", "axis": null}, "xOffset": {"field": "s", "type": "quantitative", "scale": {"domain": [-2, 2], "range": [2.5, 15.5]}},
           "y": {"field": "v", "type": "quantitative", "axis": {"orient": "left", "title": "Mfn2", "titleFontStyle": "italic", "titleFontSize": 12.5, "labels": false, "ticks": false, "domain": false, "titlePadding": 38}}}},
        {"data": {"name": "br"}, "transform": [{"filter": "datum.p == 'G'"}], "mark": {"type": "rule", "color": "black", "strokeWidth": 1.5},
         "encoding": {"x": {"field": "a", "type": "nominal", "axis": null}, "x2": {"field": "b"}, "y": {"field": "y", "type": "quantitative", "axis": null}}},
        {"data": {"name": "br"}, "transform": [{"filter": "datum.p == 'G'"}], "mark": {"type": "rule", "color": "black", "strokeWidth": 1.5},
         "encoding": {"x": {"field": "a", "type": "nominal", "axis": null}, "y": {"field": "y", "type": "quantitative", "axis": null}, "y2": {"field": "ya"}}},
        {"data": {"name": "br"}, "transform": [{"filter": "datum.p == 'G'"}], "mark": {"type": "rule", "color": "black", "strokeWidth": 1.5},
         "encoding": {"x": {"field": "b", "type": "nominal", "axis": null}, "y": {"field": "y", "type": "quantitative", "axis": null}, "y2": {"field": "yb"}}},
        {"data": {"name": "br"}, "transform": [{"filter": "datum.p == 'G' && datum.sp == 1"}], "mark": {"type": "text", "color": "black", "font": "DejaVu Sans", "fontWeight": "bold", "fontSize": 13, "dy": -1, "baseline": "alphabetic"},
         "encoding": {"x": {"field": "a", "type": "nominal", "bandPosition": 1.25, "axis": null}, "y": {"field": "y", "type": "quantitative", "axis": null}, "text": {"field": "t"}}},
        {"data": {"name": "br"}, "transform": [{"filter": "datum.p == 'G' && datum.sp == 2"}], "mark": {"type": "text", "color": "black", "fontSize": 11, "dy": -6, "baseline": "alphabetic"},
         "encoding": {"x": {"field": "a", "type": "nominal", "bandPosition": 2, "axis": null}, "y": {"field": "y", "type": "quantitative", "axis": null}, "text": {"field": "t"}}}
      ]
    },
    {
      "title": {"text": "H", "dx": -60, "offset": 10},
      "width": 102, "height": 146,
      "resolve": {"axis": {"x": "independent", "y": "independent"}},
      "layer": [
        {"data": {"name": "pts"}, "transform": [{"filter": "datum.p == 'H'"}],
         "mark": {"type": "bar", "stroke": "#333333", "strokeOpacity": 0.5, "strokeWidth": 0.8},
         "encoding": {
           "x": {"field": "g", "type": "nominal", "scale": {"domain": ["Normoxia", "Hypoxia", "Recovery"], "range": [0, 93], "paddingInner": 0.3333, "paddingOuter": 0.3333}, "axis": {"title": null, "orient": "bottom", "labelAngle": -90, "labelFontSize": 10.5}},
           "y": {"aggregate": "mean", "field": "v", "type": "quantitative", "scale": {"domain": [0, 1.5], "range": [146, 13], "nice": false}, "axis": {"title": "Relative mRNA expression", "values": [0, 0.5, 1, 1.5], "format": ".1f", "labelFontSize": 10.5, "titleFontSize": 10.7, "titlePadding": 1.5}},
           "color": {"field": "g", "type": "nominal", "scale": {"domain": ["Untreated", "Treated", "Washed", "Normoxia", "Hypoxia", "Recovery"], "range": ["#A2A2A6", "#FF2313", "#F4A1A6", "#A2A2A6", "#1414F4", "#9AC4F5"]}, "legend": null}}},
        {"data": {"name": "pts"}, "transform": [{"filter": "datum.p == 'H' && datum.g != 'Normoxia'"}],
         "mark": {"type": "errorbar", "extent": "stderr", "ticks": true, "size": 10, "thickness": 1.5, "color": "black"},
         "encoding": {"x": {"field": "g", "type": "nominal", "axis": null}, "y": {"field": "v", "type": "quantitative", "axis": null}}},
        {"data": {"name": "pts"}, "transform": [{"filter": "datum.p == 'H'"}],
         "mark": {"type": "circle", "size": 24, "color": "black", "opacity": 1},
         "encoding": {"x": {"field": "g", "type": "nominal", "axis": null}, "xOffset": {"field": "s", "type": "quantitative", "scale": {"domain": [-2, 2], "range": [2.8, 15.8]}},
           "y": {"field": "v", "type": "quantitative", "axis": {"orient": "left", "title": "Mfn2", "titleFontStyle": "italic", "titleFontSize": 12.5, "labels": false, "ticks": false, "domain": false, "titlePadding": 39}}}},
        {"data": {"name": "br"}, "transform": [{"filter": "datum.p == 'H' && datum.k == 'n'"}], "mark": {"type": "rule", "color": "black", "strokeWidth": 1.5},
         "encoding": {"x": {"field": "a", "type": "nominal", "axis": null}, "x2": {"field": "b"}, "y": {"field": "y", "type": "quantitative", "axis": null}}},
        {"data": {"name": "br"}, "transform": [{"filter": "datum.p == 'H' && datum.k == 'l'"}], "mark": {"type": "rule", "color": "black", "strokeWidth": 1.5, "x2Offset": -3},
         "encoding": {"x": {"field": "a", "type": "nominal", "axis": null}, "x2": {"field": "b"}, "y": {"field": "y", "type": "quantitative", "axis": null}}},
        {"data": {"name": "br"}, "transform": [{"filter": "datum.p == 'H' && datum.k == 'r'"}], "mark": {"type": "rule", "color": "black", "strokeWidth": 1.5, "xOffset": 3},
         "encoding": {"x": {"field": "a", "type": "nominal", "axis": null}, "x2": {"field": "b"}, "y": {"field": "y", "type": "quantitative", "axis": null}}},
        {"data": {"name": "br"}, "transform": [{"filter": "datum.p == 'H' && datum.k != 'r'"}], "mark": {"type": "rule", "color": "black", "strokeWidth": 1.5},
         "encoding": {"x": {"field": "a", "type": "nominal", "axis": null}, "y": {"field": "y", "type": "quantitative", "axis": null}, "y2": {"field": "ya"}}},
        {"data": {"name": "br"}, "transform": [{"filter": "datum.p == 'H' && datum.k == 'r'"}], "mark": {"type": "rule", "color": "black", "strokeWidth": 1.5, "xOffset": 3},
         "encoding": {"x": {"field": "a", "type": "nominal", "axis": null}, "y": {"field": "y", "type": "quantitative", "axis": null}, "y2": {"field": "ya"}}},
        {"data": {"name": "br"}, "transform": [{"filter": "datum.p == 'H' && datum.k != 'l'"}], "mark": {"type": "rule", "color": "black", "strokeWidth": 1.5},
         "encoding": {"x": {"field": "b", "type": "nominal", "axis": null}, "y": {"field": "y", "type": "quantitative", "axis": null}, "y2": {"field": "yb"}}},
        {"data": {"name": "br"}, "transform": [{"filter": "datum.p == 'H' && datum.k == 'l'"}], "mark": {"type": "rule", "color": "black", "strokeWidth": 1.5, "xOffset": -3},
         "encoding": {"x": {"field": "b", "type": "nominal", "axis": null}, "y": {"field": "y", "type": "quantitative", "axis": null}, "y2": {"field": "yb"}}},
        {"data": {"name": "br"}, "transform": [{"filter": "datum.p == 'H' && datum.sp == 1"}], "mark": {"type": "text", "color": "black", "fontSize": 11, "dy": -6, "baseline": "alphabetic"},
         "encoding": {"x": {"field": "a", "type": "nominal", "bandPosition": 1.25, "axis": null}, "y": {"field": "y", "type": "quantitative", "axis": null}, "text": {"field": "t"}}},
        {"data": {"name": "br"}, "transform": [{"filter": "datum.p == 'H' && datum.sp == 2"}], "mark": {"type": "text", "color": "black", "fontSize": 11, "dy": -6, "baseline": "alphabetic"},
         "encoding": {"x": {"field": "a", "type": "nominal", "bandPosition": 2, "axis": null}, "y": {"field": "y", "type": "quantitative", "axis": null}, "text": {"field": "t"}}}
      ]
    }
  ],
  "config": {
    "view": {"stroke": null},
    "font": "Liberation Sans",
    "title": {"anchor": "start", "frame": "group", "fontSize": 20, "fontWeight": "bold", "color": "black", "baseline": "alphabetic", "font": "Liberation Sans"},
    "axis": {"grid": false, "domainColor": "black", "domainWidth": 1.8, "tickColor": "black", "tickWidth": 1.8, "tickSize": 5, "labelColor": "black", "labelFontSize": 12, "labelPadding": 3, "titleColor": "black", "titleFontSize": 12, "titleFontWeight": "normal", "labelFont": "Liberation Sans", "titleFont": "Liberation Sans"},
    "text": {"font": "Liberation Sans", "color": "black"}
  }
}
